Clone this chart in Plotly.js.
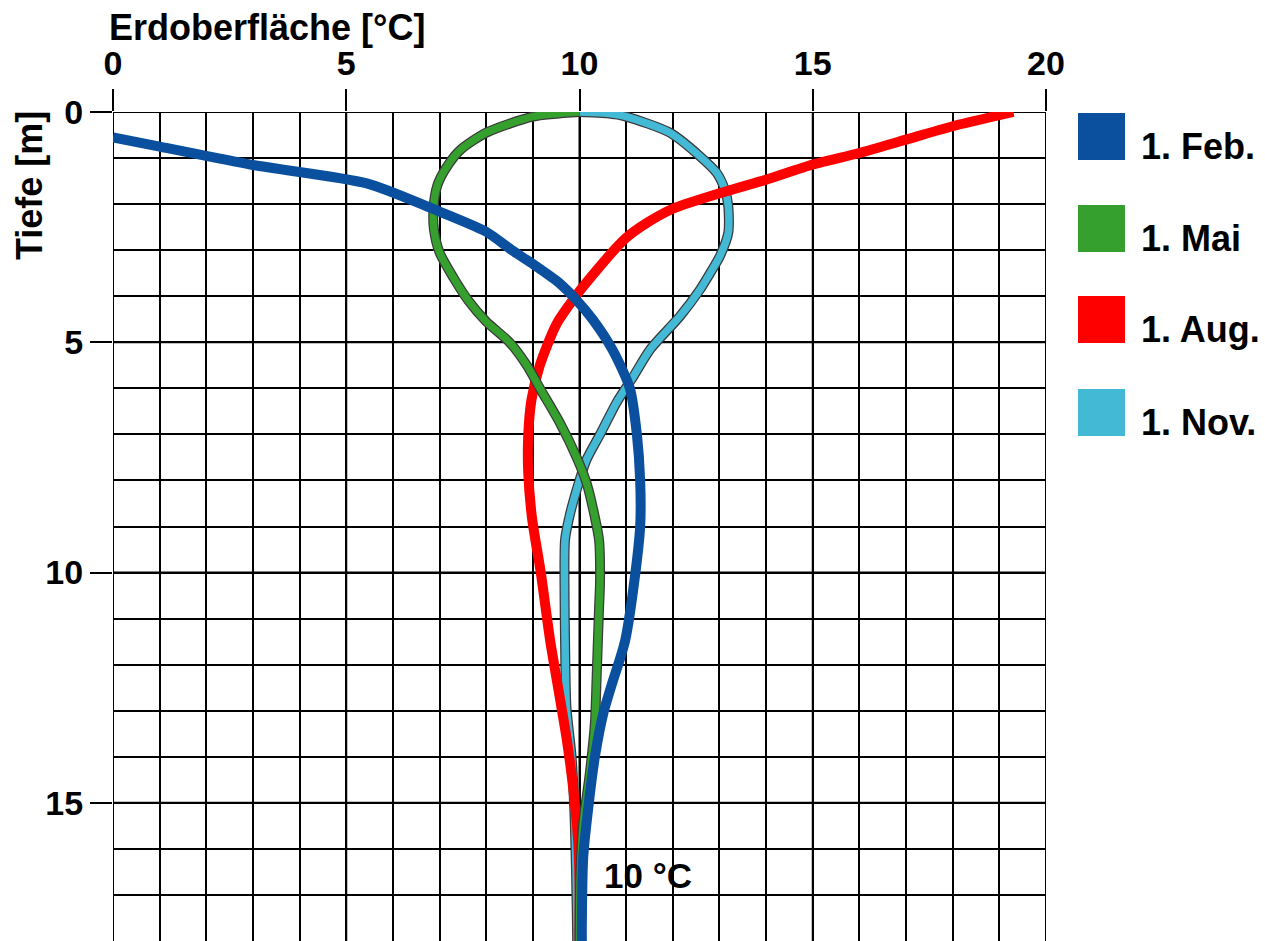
<!DOCTYPE html>
<html>
<head>
<meta charset="utf-8">
<script src="https://cdn.plot.ly/plotly-3.0.1.min.js"></script>
<style>html,body{margin:0;padding:0;background:#fff;}#chart{width:1265px;height:941px;}</style>
</head>
<body>
<div id="chart"></div>
<script>
// Tiefe [m] (y) und Temperatur [°C] (x) je Stichtag
const febDepth = [0.55, 0.75, 1.15, 1.55, 2.1, 2.6, 3.0, 3.3, 3.7, 4.1, 4.5, 5.15, 6.0, 7.0, 8.0, 9.0, 10.38, 11.47, 11.9, 12.34, 13.06, 14.0, 15.09, 16.18, 17.63, 18.0];
const febTemp  = [0.0, 1.0, 3.0, 5.44, 6.85, 8.0, 8.55, 9.0, 9.55, 9.95, 10.28, 10.7, 11.08, 11.23, 11.3, 11.3, 11.15, 10.98, 10.86, 10.72, 10.51, 10.33, 10.19, 10.08, 10.05, 10.05];

const maiDepth = [0.0, 0.1, 0.45, 0.82, 1.2, 1.6, 2.1, 2.55, 3.05, 3.6, 4.1, 4.55, 5.0, 5.5, 6.05, 6.75, 7.5, 8.05, 8.8, 9.3, 10.2, 10.74, 12.19, 13.27, 14.37, 15.45, 16.5, 18.0];
const maiTemp  = [10.0, 9.0, 8.0, 7.45, 7.15, 6.95, 6.87, 6.88, 7.0, 7.3, 7.62, 8.0, 8.5, 8.87, 9.18, 9.58, 9.94, 10.15, 10.33, 10.42, 10.44, 10.42, 10.37, 10.33, 10.22, 10.08, 10.02, 10.0];

const augDepth = [0.0, 0.31, 0.6, 0.89, 1.14, 1.47, 1.72, 2.1, 2.41, 2.73, 3.0, 3.35, 3.93, 4.6, 5.5, 6.25, 7.05, 7.8, 8.8, 10.0, 11.47, 12.55, 13.64, 14.73, 15.82, 16.7, 18.0];
const augTemp  = [19.3, 18.0, 17.0, 16.0, 15.0, 14.0, 13.15, 12.0, 11.44, 11.0, 10.74, 10.44, 9.97, 9.51, 9.15, 8.97, 8.9, 8.9, 8.98, 9.17, 9.37, 9.55, 9.73, 9.87, 9.97, 10.0, 10.0];

const novDepth = [0.0, 0.03, 0.1, 0.45, 0.96, 1.32, 1.7, 2.05, 2.62, 3.13, 3.5, 3.86, 4.44, 5.16, 5.75, 6.3, 7.0, 7.55, 8.2, 8.8, 9.29, 10.5, 11.47, 12.92, 14.0, 15.45, 17.27, 18.0];
const novTemp  = [10.0, 10.6, 11.0, 11.94, 12.58, 12.94, 13.12, 13.19, 13.19, 13.01, 12.8, 12.58, 12.15, 11.51, 11.15, 10.8, 10.44, 10.15, 9.94, 9.78, 9.69, 9.68, 9.69, 9.72, 9.83, 9.9, 9.94, 9.95];

const seriesNames  = ["1. Feb.", "1. Mai", "1. Aug.", "1. Nov."];
const seriesColors = ["#0b509f", "#35a02e", "#ff0000", "#43b9d6"];

const xTickVals = [0, 5, 10, 15, 20];
const yTickVals = [0, 5, 10, 15];
const xTitle = "Erdoberfläche [°C]";
const yTitle = "Tiefe [m]";
const noteText = "10 °C";
const noteX = 10.48, noteY = 16.57;

const FONT = "'Liberation Sans', Arial, Helvetica, sans-serif";
const outline = "#3a3a3a";
const smooth = 0.7;

function line(x, y, color, width) {
  return {x: x, y: y, type: "scatter", mode: "lines", hoverinfo: "skip", showlegend: false,
          line: {color: color, width: width, shape: "spline", smoothing: smooth}};
}

const traces = [
  line(novTemp, novDepth, outline, 10),
  line(novTemp, novDepth, seriesColors[3], 7.5),
  line(augTemp, augDepth, seriesColors[2], 10),
  line(maiTemp, maiDepth, outline, 10),
  line(maiTemp, maiDepth, seriesColors[1], 7.5),
  line(febTemp, febDepth, seriesColors[0], 10)
];

// figure geometry (pixels)
const L = 113, T = 112, PW = 933, PH = 829;
const px2x = p => (p - L) / PW;
const px2y = p => 1 - (p - T) / PH;
const legTop = [113, 205, 296, 389];
const shapes = [];
const annotations = [];

// major grid lines at the labelled ticks
xTickVals.forEach(v => shapes.push({type: "line", xref: "x", yref: "paper", x0: v, x1: v, y0: 0, y1: 1,
  layer: "below", line: {color: "#000", width: 2}}));
yTickVals.forEach(v => shapes.push({type: "line", xref: "paper", yref: "y", x0: 0, x1: 1, y0: v, y1: v,
  layer: "below", line: {color: "#000", width: 2}}));

seriesNames.forEach((n, i) => {
  shapes.push({type: "rect", xref: "paper", yref: "paper",
    x0: px2x(1078), x1: px2x(1125), y0: px2y(legTop[i] + 47), y1: px2y(legTop[i]),
    fillcolor: seriesColors[i], line: {width: 0}});
  annotations.push({xref: "paper", yref: "paper", x: px2x(1139), y: px2y(legTop[i] + 33),
    xanchor: "left", yanchor: "middle", showarrow: false, text: n,
    font: {family: FONT, size: 36, color: "#000", weight: 700}});
});
annotations.push({xref: "paper", yref: "paper", x: px2x(107), y: px2y(28),
  xanchor: "left", yanchor: "middle", showarrow: false, text: xTitle,
  font: {family: FONT, size: 36, color: "#000", weight: 700}});
annotations.push({xref: "paper", yref: "paper", x: px2x(30), y: px2y(186),
  xanchor: "center", yanchor: "middle", showarrow: false, text: yTitle, textangle: -90,
  font: {family: FONT, size: 36, color: "#000", weight: 700}});
annotations.push({xref: "x", yref: "y", x: noteX, y: noteY,
  xanchor: "left", yanchor: "middle", showarrow: false, text: noteText,
  font: {family: FONT, size: 35, color: "#000", weight: 700}});

const axisCommon = {
  showgrid: true, gridcolor: "#000", gridwidth: 2,
  zeroline: false, showline: false,
  ticks: "outside", ticklen: 22, tickwidth: 2, tickcolor: "#000",
  tickfont: {family: FONT, size: 34, color: "#000", weight: 700},
  minor: {dtick: 1, showgrid: true, gridcolor: "#000", gridwidth: 2, ticks: ""},
  fixedrange: true
};

const layout = {
  width: 1265, height: 941,
  margin: {l: L, r: 1265 - L - PW, t: T, b: 0, pad: 0},
  paper_bgcolor: "#fff", plot_bgcolor: "#fff",
  showlegend: false,
  xaxis: Object.assign({}, axisCommon, {side: "top", range: [0, 20], tickmode: "array", tickvals: xTickVals, ticktext: xTickVals.map(String)}),
  yaxis: Object.assign({}, axisCommon, {range: [18, 0], tickmode: "array", tickvals: yTickVals, ticktext: yTickVals.map(String)}),
  shapes: shapes,
  annotations: annotations
};

Plotly.newPlot("chart", traces, layout, {staticPlot: true, displayModeBar: false});
</script>
</body>
</html>
